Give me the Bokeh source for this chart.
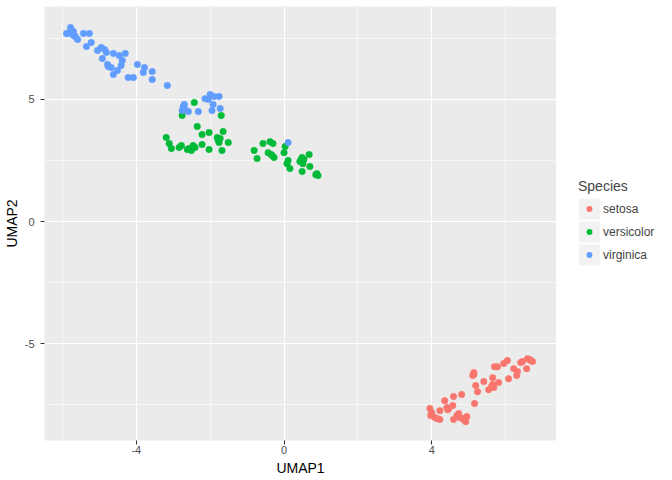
from bokeh.plotting import figure
from bokeh.layouts import row
from bokeh.models import (ColumnDataSource, FixedTicker, Legend, LegendItem, Range1d)
from bokeh.embed import file_html
from bokeh.resources import INLINE

species = ["setosa", "versicolor", "virginica"]
colors = ["#F8766D", "#00BA38", "#619CFF"]

setosa_x = [3.95, 3.97, 4.08, 4.22, 4.22, 4.35, 4.41, 4.43, 4.57, 4.59, 4.81, 4.59, 4.73, 4.76, 4.86,
            4.95, 4.92, 5.16, 5.24, 5.14, 5.14, 5.19, 5.41, 5.65, 5.65, 5.68, 5.54, 5.81, 5.70, 5.78,
            5.95, 6.05, 6.08, 6.22, 6.32, 6.30, 6.46, 6.59, 6.65, 6.73, 6.57, 4.00, 4.14, 4.84, 5.62,
            6.41, 5.11, 4.46, 4.68, 6.68]
setosa_y = [-7.65, -7.94, -8.02, -7.74, -8.10, -7.33, -7.61, -7.70, -7.53, -7.16, -7.08, -8.10, -7.86,
            -8.02, -8.10, -7.98, -8.19, -7.45, -6.96, -6.18, -6.26, -6.71, -6.55, -6.39, -6.67, -6.79,
            -6.88, -6.59, -5.94, -5.94, -5.81, -5.69, -6.43, -6.02, -6.14, -6.30, -5.73, -5.61, -5.65,
            -5.73, -6.02, -7.82, -8.06, -8.06, -6.75, -5.77, -6.30, -7.65, -7.94, -5.69]

versicolor_x = [-2.43, -2.76, -1.70, -2.35, -1.65, -2.22, -2.03, -1.81, -1.73, -1.76, -1.51, -3.19,
                -3.11, -3.05, -2.84, -2.78, -2.62, -2.51, -2.46, -2.41, -2.22, -2.03, -1.68, -0.81,
                -0.73, -0.57, -0.38, -0.30, -0.43, -0.35, -0.27, 0.03, 0.00, 0.11, 0.08, 0.16, 0.49,
                0.43, 0.54, 0.68, 0.51, 0.70, 0.49, 0.89, 0.92, 0.86, -2.57, -1.78, -0.32, 0.46]
versicolor_y = [4.87, 4.34, 4.34, 3.89, 3.68, 3.56, 3.64, 3.44, 3.40, 3.23, 3.23, 3.44, 3.19, 2.99,
                3.03, 3.11, 2.95, 2.91, 3.11, 3.03, 3.15, 2.95, 2.91, 2.91, 2.58, 3.19, 3.27, 3.19,
                2.82, 2.74, 2.62, 3.07, 2.82, 2.50, 2.37, 2.17, 2.62, 2.46, 2.54, 2.74, 2.37, 2.25,
                2.05, 1.96, 1.88, 1.92, 2.99, 3.32, 2.70, 2.54]

virginica_x = [-5.78, -5.76, -5.84, -5.70, -5.70, -5.89, -5.59, -5.43, -5.27, -5.35, -5.22, -5.05,
               -4.95, -4.92, -4.81, -4.78, -4.76, -4.62, -4.46, -4.38, -4.30, -4.41, -4.51, -4.62,
               -4.22, -4.08, -3.97, -3.78, -3.81, -3.57, -3.57, -3.16, -2.00, -2.05, -1.89, -1.76,
               -1.92, -2.73, -2.68, -2.59, -2.76, -2.32, -1.95, -1.73, 0.11, -2.14, -2.70, -4.68,
               -4.86, -5.65]
virginica_y = [7.94, 7.82, 7.70, 7.78, 7.61, 7.70, 7.45, 7.70, 7.70, 7.16, 7.33, 7.00, 7.12, 6.67,
               6.92, 6.43, 6.34, 6.88, 6.79, 6.59, 6.88, 6.39, 6.18, 6.02, 5.89, 5.89, 6.43, 6.30,
               6.10, 6.14, 5.81, 5.57, 5.20, 4.99, 5.12, 5.12, 4.79, 4.71, 4.58, 4.50, 4.54, 4.50,
               4.54, 4.63, 3.23, 5.03, 4.79, 6.30, 7.04, 7.57]

x_ticks = [-4, 0, 4]
x_minor = [-6, -2, 2, 6]
y_ticks = [-5, 0, 5]
y_minor = [-7.5, -2.5, 2.5, 7.5]

FONT = "Liberation Sans"

p = figure(width=556, height=480, output_backend="svg", toolbar_location=None,
           x_range=Range1d(-6.486, 7.378), y_range=Range1d(-8.96, 8.80),
           min_border_left=43, min_border_right=0, min_border_top=6, min_border_bottom=40)
p.background_fill_color = "#EBEBEB"
p.border_fill_color = "white"
p.outline_line_color = None

p.xaxis.ticker = FixedTicker(ticks=x_ticks, minor_ticks=x_minor)
p.yaxis.ticker = FixedTicker(ticks=y_ticks, minor_ticks=y_minor)
p.xaxis.major_label_overrides = {t: str(t) for t in x_ticks}
p.yaxis.major_label_overrides = {t: str(t) for t in y_ticks}

for g in (p.xgrid, p.ygrid):
    g.grid_line_color = "white"
    g.grid_line_width = 1.1
    g.minor_grid_line_color = "white"
    g.minor_grid_line_width = 0.55

for ax in (p.xaxis, p.yaxis):
    ax.axis_line_color = None
    ax.major_tick_line_color = "#333333"
    ax.major_tick_line_width = 1
    ax.major_tick_out = 4
    ax.major_tick_in = 0
    ax.minor_tick_line_color = None
    ax.major_label_text_font = FONT
    ax.major_label_text_font_size = "11px"
    ax.major_label_text_color = "#4D4D4D"
    ax.axis_label_text_font = FONT
    ax.axis_label_text_font_size = "14px"
    ax.axis_label_text_font_style = "normal"
    ax.axis_label_text_color = "black"

p.xaxis.axis_label = "UMAP1"
p.yaxis.axis_label = "UMAP2"
p.xaxis.major_label_standoff = 1
p.xaxis.axis_label_standoff = 3
p.yaxis.major_label_standoff = 6
p.yaxis.axis_label_standoff = 2

data = [(setosa_x, setosa_y), (versicolor_x, versicolor_y), (virginica_x, virginica_y)]
for (xs, ys), c in zip(data, colors):
    src = ColumnDataSource(dict(x=xs, y=ys))
    p.scatter("x", "y", source=src, size=6.5, fill_color=c, line_color=c, line_width=0.5)

# ---- legend panel (separate figure to the right of the plot panel) ----
lg = figure(width=116, height=480, output_backend="svg", toolbar_location=None,
            x_axis_type=None, y_axis_type=None,
            x_range=Range1d(100, 101), y_range=Range1d(100, 101),
            min_border_left=0, min_border_right=0, min_border_top=0, min_border_bottom=0)
lg.grid.visible = False
lg.outline_line_color = None
lg.background_fill_color = "white"
lg.border_fill_color = "white"

items = []
for (xs, ys), s, c in zip(data, species, colors):
    src = ColumnDataSource(dict(x=xs, y=ys))
    key_bg = lg.scatter("x", "y", source=src, marker="square", fill_color="#F2F2F2",
                        line_color="#F2F2F2", line_width=12, line_join="miter")
    dot = lg.scatter("x", "y", source=src, marker="circle", fill_color=c,
                     line_color="#F2F2F2", line_width=3)
    items.append(LegendItem(label=s, renderers=[key_bg, dot]))

legend = Legend(items=items, location=(22, 174), title="Species",
                title_text_font=FONT, title_text_font_size="14px", title_text_font_style="normal",
                title_standoff=3, label_text_font=FONT, label_text_font_size="12px",
                glyph_width=22, glyph_height=23, spacing=0, padding=0, margin=0,
                label_standoff=3, background_fill_alpha=0, border_line_alpha=0)
lg.add_layout(legend)

layout = row(p, lg, spacing=0)
open("out.html", "w").write(file_html(layout, INLINE))
